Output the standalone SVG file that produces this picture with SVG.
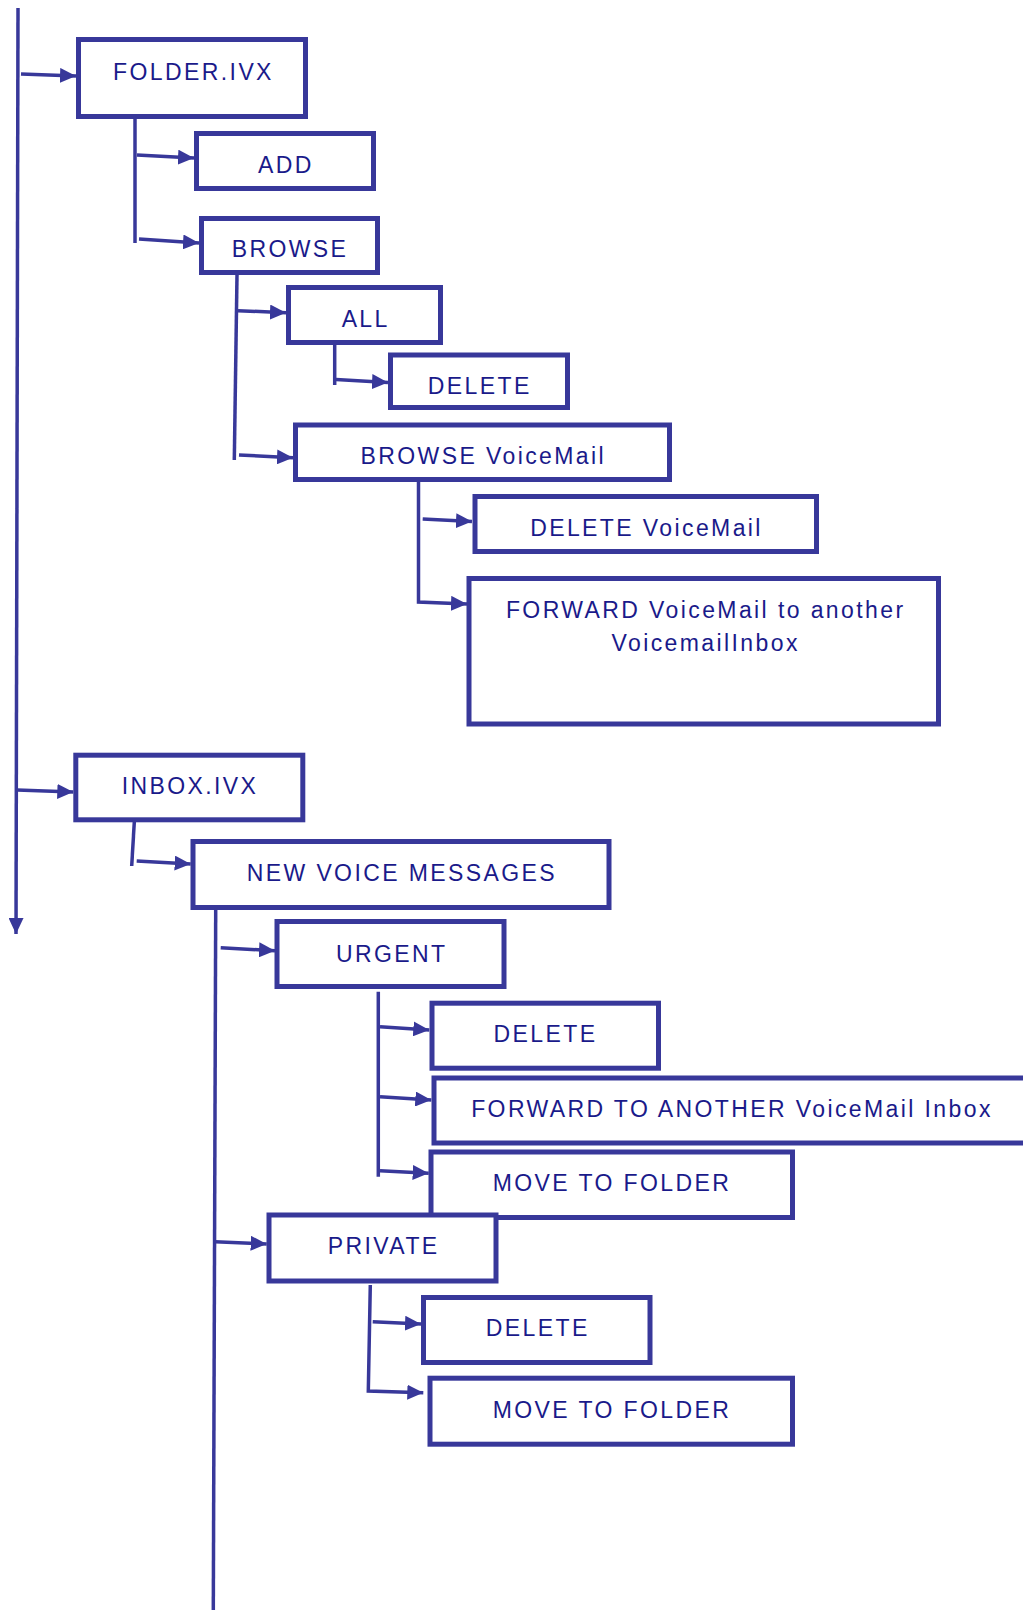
<svg xmlns="http://www.w3.org/2000/svg" width="1023" height="1610" viewBox="0 0 1023 1610">
<style>
.box{fill:#ffffff;stroke:#38389a;stroke-width:5}
.lbl{font-family:"Liberation Sans",Arial,sans-serif;font-size:23px;letter-spacing:2.4px;fill:#1a1a8a;text-anchor:middle}
.con{fill:none;stroke:#38389a;stroke-width:3.5}
</style>
<defs>
<marker id="ah" markerUnits="userSpaceOnUse" markerWidth="16" markerHeight="15" refX="16" refY="7.5" orient="auto" viewBox="0 0 16 15">
<path d="M0,0 L16,7.5 L0,15 Z" fill="#38389a"/>
</marker>
</defs>
<rect width="1023" height="1610" fill="#ffffff"/>
<g id="connectors">
<line class="con" x1="18" y1="8" x2="16" y2="934" marker-end="url(#ah)"/>
<line class="con" x1="21" y1="74" x2="76" y2="76" marker-end="url(#ah)"/>
<line class="con" x1="135" y1="119" x2="135" y2="243"/>
<line class="con" x1="137" y1="155" x2="194" y2="158" marker-end="url(#ah)"/>
<line class="con" x1="139" y1="239" x2="199" y2="243" marker-end="url(#ah)"/>
<line class="con" x1="237" y1="275" x2="234.3" y2="460"/>
<line class="con" x1="238" y1="310.7" x2="286" y2="312.7" marker-end="url(#ah)"/>
<line class="con" x1="334.7" y1="345" x2="334.7" y2="385"/>
<line class="con" x1="336" y1="379.5" x2="388" y2="382.5" marker-end="url(#ah)"/>
<line class="con" x1="239" y1="455" x2="293" y2="457.7" marker-end="url(#ah)"/>
<polyline class="con" points="418.5,482 418.5,602 467,604" marker-end="url(#ah)"/>
<line class="con" x1="422.7" y1="519" x2="472" y2="521.5" marker-end="url(#ah)"/>
<line class="con" x1="17" y1="790" x2="73.3" y2="792" marker-end="url(#ah)"/>
<line class="con" x1="134.3" y1="822" x2="131.7" y2="866"/>
<line class="con" x1="136.7" y1="861" x2="190.7" y2="864" marker-end="url(#ah)"/>
<line class="con" x1="215.7" y1="910" x2="213.3" y2="1610"/>
<line class="con" x1="220.7" y1="947.7" x2="275" y2="950.7" marker-end="url(#ah)"/>
<line class="con" x1="378.3" y1="991.7" x2="378.3" y2="1176.7"/>
<line class="con" x1="380" y1="1026.7" x2="429.3" y2="1030" marker-end="url(#ah)"/>
<line class="con" x1="380" y1="1096.7" x2="431.3" y2="1100" marker-end="url(#ah)"/>
<line class="con" x1="380" y1="1170.7" x2="428.7" y2="1173.3" marker-end="url(#ah)"/>
<line class="con" x1="215" y1="1241.7" x2="266.7" y2="1244" marker-end="url(#ah)"/>
<polyline class="con" points="370.3,1285 368.3,1391 423.3,1392.7" marker-end="url(#ah)"/>
<line class="con" x1="372.7" y1="1321.7" x2="421" y2="1324" marker-end="url(#ah)"/>
</g>
<g id="folder-ivx"><rect class="box" x="78.5" y="39.5" width="227" height="77"/><text class="lbl" x="193.5" y="80">FOLDER.IVX</text></g>
<g id="add"><rect class="box" x="196.5" y="133.5" width="177" height="55"/><text class="lbl" x="286" y="173">ADD</text></g>
<g id="browse"><rect class="box" x="201.5" y="218.5" width="176" height="54"/><text class="lbl" x="290" y="257">BROWSE</text></g>
<g id="all"><rect class="box" x="288.5" y="287.5" width="152" height="55"/><text class="lbl" x="365.7" y="327">ALL</text></g>
<g id="delete-all"><rect class="box" x="390.5" y="355" width="177" height="52.5"/><text class="lbl" x="479.8" y="394">DELETE</text></g>
<g id="browse-voicemail"><rect class="box" x="295.5" y="425" width="374" height="54.5"/><text class="lbl" x="483.3" y="464">BROWSE VoiceMail</text></g>
<g id="delete-voicemail"><rect class="box" x="475" y="496.5" width="341.5" height="55"/><text class="lbl" x="646.5" y="536">DELETE VoiceMail</text></g>
<g id="forward-voicemail"><rect class="box" x="469" y="578.5" width="469.5" height="145.5"/><text class="lbl" x="705.7" y="617.7">FORWARD VoiceMail to another</text><text class="lbl" x="705.7" y="651">VoicemailInbox</text></g>
<g id="inbox-ivx"><rect class="box" x="75.8" y="755.2" width="227" height="64.6"/><text class="lbl" x="190" y="794">INBOX.IVX</text></g>
<g id="new-voice-messages"><rect class="box" x="193" y="841.5" width="416" height="66"/><text class="lbl" x="401.9" y="881">NEW VOICE MESSAGES</text></g>
<g id="urgent"><rect class="box" x="277" y="921.5" width="227" height="65"/><text class="lbl" x="391.8" y="961.7">URGENT</text></g>
<g id="delete-urgent"><rect class="box" x="432" y="1003.2" width="226.5" height="65"/><text class="lbl" x="545.5" y="1041.7">DELETE</text></g>
<g id="forward-another"><rect class="box" x="434" y="1078" width="620" height="65"/><text class="lbl" x="732" y="1116.7">FORWARD TO ANOTHER VoiceMail Inbox</text></g>
<g id="move-urgent"><rect class="box" x="431" y="1152" width="361.5" height="65.5"/><text class="lbl" x="612" y="1190.5">MOVE TO FOLDER</text></g>
<g id="private"><rect class="box" x="269" y="1215" width="227" height="66"/><text class="lbl" x="383.7" y="1254">PRIVATE</text></g>
<g id="delete-private"><rect class="box" x="423.5" y="1297.5" width="226.5" height="65"/><text class="lbl" x="537.7" y="1336">DELETE</text></g>
<g id="move-private"><rect class="box" x="430" y="1378.2" width="362.5" height="66"/><text class="lbl" x="612" y="1418.3">MOVE TO FOLDER</text></g>
</svg>
